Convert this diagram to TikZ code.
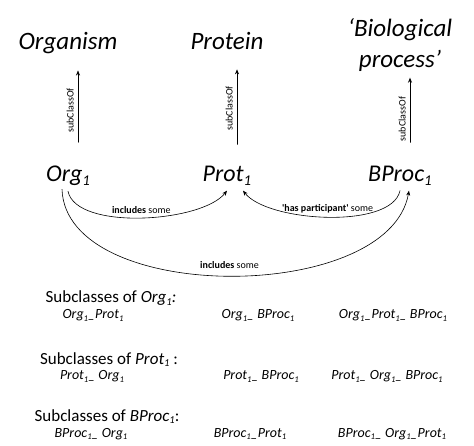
\documentclass[tikz,border=0pt]{standalone}
\usepackage{fontspec}
\setmainfont{Carlito}
\usetikzlibrary{arrows.meta}
\newcommand\lowone{\raisebox{-0.3ex}{\scalebox{0.62}{1}}}
\begin{document}
\begin{tikzpicture}[x=1pt, y=1pt, line cap=round,
    cls/.style={font=\fontsize{25}{31}\selectfont\itshape, inner sep=2pt},
    inst/.style={font=\fontsize{24}{28}\selectfont\itshape, anchor=base, inner sep=2pt},
    rel/.style={-{Stealth[length=5pt, width=4pt]}, line width=0.6pt},
    rlabel/.style={font=\fontsize{10}{12}\selectfont, inner sep=0pt},
    head/.style={font=\fontsize{17}{20}\selectfont, anchor=base, inner sep=0pt},
    item/.style={font=\fontsize{14}{17}\selectfont\itshape, anchor=base, inner sep=0pt}]
  \useasboundingbox (0,0) rectangle (474,-446);
  % classes
  \node[cls, anchor=base] (organism) at (68,-50) {Organism};
  \node[cls, anchor=base] (protein) at (227,-50) {Protein};
  \node[cls, align=center] (bioproc) at (400,-45) {‘Biological\\process’};
  % instances
  \node[inst] (org1) at (68,-182) {Org\lowone};
  \node[inst] (prot1) at (227,-182) {Prot\lowone};
  \node[inst] (bproc1) at (400,-182) {BProc\lowone};
  % subClassOf
  \draw[rel, shorten <=22pt, shorten >=14pt] ([xshift=10pt]org1.north) -- ([xshift=10pt]organism.south)
    node[rlabel, midway, sloped, above=4pt] {subClassOf};
  \draw[rel, shorten <=20pt, shorten >=17pt] ([xshift=10pt]prot1.north) -- ([xshift=10pt]protein.south)
    node[rlabel, midway, sloped, above=4pt] {subClassOf};
  \draw[rel, shorten <=22pt, shorten >=4pt] ([xshift=10pt]bproc1.north) -- ([xshift=10pt]bioproc.south)
    node[rlabel, midway, sloped, above=4pt] {subClassOf};
  % relations
  \draw[rel] ([yshift=-3pt]org1.south) to[out=-78, in=-128, looseness=0.65]
    node[rlabel, above=4pt] {\textbf{includes} some} ([xshift=0pt, yshift=-3pt]prot1.south);
  \draw[rel] ([yshift=-3pt]bproc1.south) to[out=-102, in=-52, looseness=0.65]
    node[rlabel, above=4pt] {\textbf{\textquotesingle has participant\textquotesingle} some} ([xshift=16pt, yshift=-3pt]prot1.south);
  \draw[rel] ([xshift=-6pt, yshift=-1pt]org1.south) to[out=-88, in=-100, looseness=0.85]
    node[rlabel, above=7pt] {\textbf{includes} some} ([xshift=9pt, yshift=-3pt]bproc1.south);
  % subclasses
  \node[head] (suborg) at (111,-303) {Subclasses of \textit{Org\lowone:}};
  \node[item] (orgprot) at (93,-319) {Org\lowone\_Prot\lowone};
  \node[item] (orgbproc) at (258,-319) {Org\lowone\_ BProc\lowone};
  \node[item] (orgprotbproc) at (393,-319) {Org\lowone\_Prot\lowone\_ BProc\lowone};
  \node[head] (subprot) at (109,-364) {Subclasses of \textit{Prot\lowone} :};
  \node[item] (protorg) at (92,-380) {Prot\lowone\_ Org\lowone};
  \node[item] (protbproc) at (261,-380) {Prot\lowone\_ BProc\lowone};
  \node[item] (protorgbproc) at (387,-380) {Prot\lowone\_ Org\lowone \_ BProc\lowone};
  \node[head] (subbproc) at (107,-421) {Subclasses of \textit{BProc\lowone}:};
  \node[item] (bprocorg) at (91,-437) {BProc\lowone \_ Org\lowone};
  \node[item] (bprocprot) at (250,-437) {BProc\lowone\_Prot\lowone};
  \node[item] (bprocorgprot) at (392,-437) {BProc\lowone \_ Org\lowone \_Prot\lowone};
\end{tikzpicture}
\end{document}
